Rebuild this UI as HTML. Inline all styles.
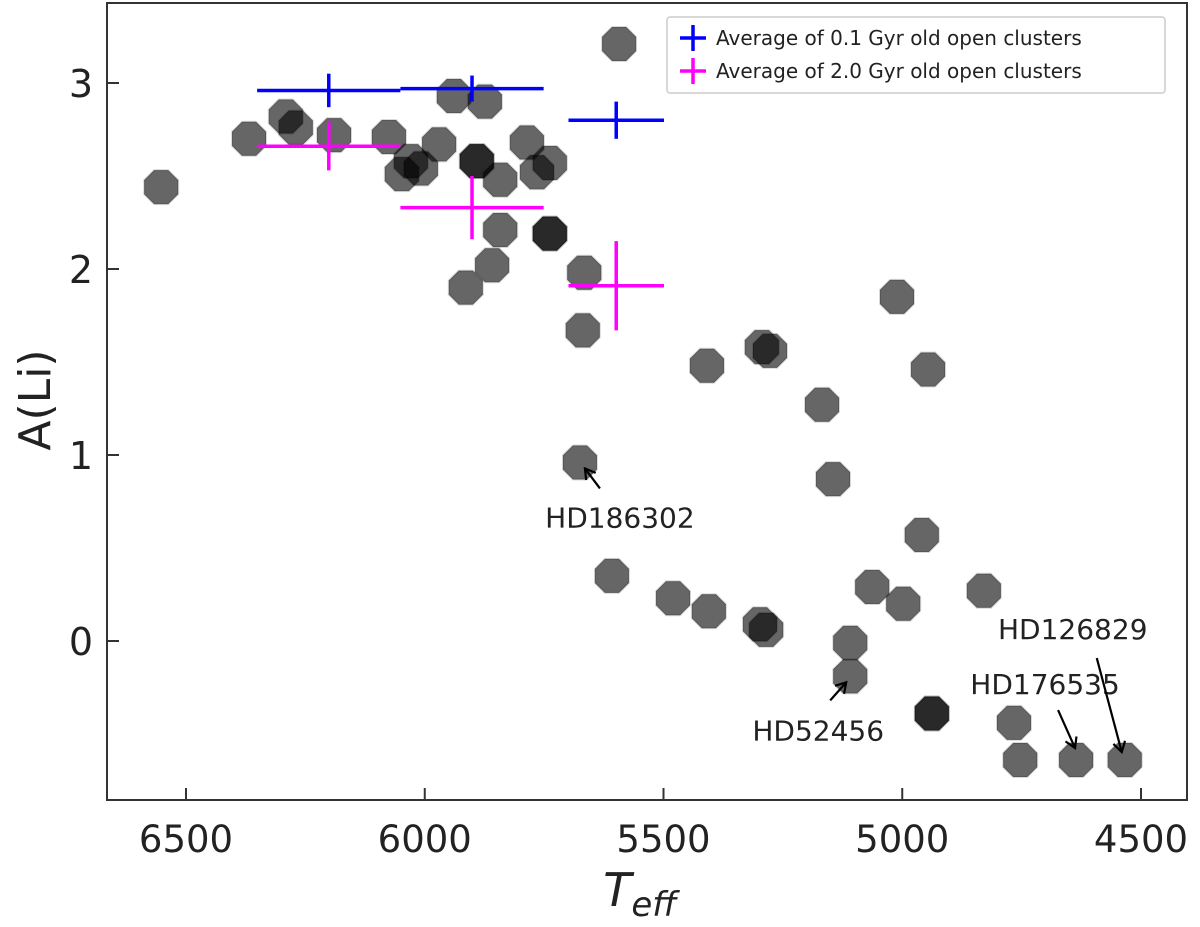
<!DOCTYPE html>
<html><head><meta charset="utf-8"><style>
body{margin:0;background:#fff}
svg text{font-family:"DejaVu Sans","Liberation Sans",sans-serif;fill:#222}
</style></head><body>
<svg id="chart" width="1200" height="922" xmlns="http://www.w3.org/2000/svg"></svg>
<script>
const teffs=[6552,6368,6291,6270,6190,6075,6029,6048,6008,5970,5939,5874,5891,5891,5842,5786,5765,5738,5842,5738,5738,5859,5914,5666,5669,5593,
5675,5608,5480,5405,5409,5294,5277,5298,5285,5168,5145,5109,5109,5063,5011,4998,4946,4959,4938,4938,4829,4766,4753,4636,4534];
const alis=[2.44,2.70,2.82,2.76,2.72,2.71,2.58,2.51,2.54,2.67,2.93,2.90,2.58,2.58,2.48,2.68,2.52,2.57,2.21,2.19,2.19,2.02,1.90,1.98,1.67,3.21,
0.96,0.35,0.23,0.16,1.48,1.58,1.56,0.09,0.06,1.27,0.87,-0.01,-0.19,0.29,1.85,0.20,1.46,0.57,-0.39,-0.39,0.27,-0.44,-0.64,-0.64,-0.64];
const youngT=[6201,5901,5599], youngA=[2.96,2.97,2.80], youngTerr=[150,150,100], youngAerr=[0.09,0.07,0.10];
const oldT=[6201,5901,5599], oldA=[2.66,2.33,1.91], oldTerr=[150,150,100], oldAerr=[0.13,0.17,0.24];
const xTicks=[6500,6000,5500,5000,4500];
const yTicks=[0,1,2,3];
const labelNames=["HD186302","HD52456","HD176535","HD126829"];
const labelT=[5675,5109,4636,4534];
const labelA=[0.96,-0.19,-0.64,-0.64];

const NS="http://www.w3.org/2000/svg",svg=document.getElementById('chart');
const L=107,R=1187,T=3,B=800;
const X=t=>186+(6500-t)*0.4775;
const Y=a=>641-a*186;
// label text/arrow offsets relative to the annotated point (layout, not data)
const lblOff=[[40,65,20,26,5,6],[-32,64,-20,24,-4,6],[-31,-66,-18,-50,-1,-12],[-52,-121,-28,-102,-3,-8]];
function el(tag,attrs,parent){const e=document.createElementNS(NS,tag);for(const k in attrs)e.setAttribute(k,attrs[k]);(parent||svg).appendChild(e);return e;}
const gp=el('g',{});


teffs.forEach((t,i)=>{
  const cx=X(t),cy=Y(alis[i]),r=17,k=r*0.414;
  const pts=[[k,-r],[r,-k],[r,k],[k,r],[-k,r],[-r,k],[-r,-k],[-k,-r]].map(p=>(cx+p[0])+','+(cy+p[1])).join(' ');
  const p=el('polygon',{points:pts,fill:'#000','fill-opacity':0.6,'stroke':'#000','stroke-opacity':0.15,'stroke-linejoin':'round','stroke-width':2},gp);
  
  
});
function errs(ts,as,te,ae,color,name){
  const g=el('g',{});
  
  
  ts.forEach((t,i)=>{
    el('line',{x1:X(t+te[i]),x2:X(t-te[i]),y1:Y(as[i]),y2:Y(as[i]),stroke:color,'stroke-width':3.5},g);
    el('line',{x1:X(t),x2:X(t),y1:Y(as[i]+ae[i]),y2:Y(as[i]-ae[i]),stroke:color,'stroke-width':3.5},g);
  });
}
errs(youngT,youngA,youngTerr,youngAerr,'#0000ff','young-cluster-averages');
errs(oldT,oldA,oldTerr,oldAerr,'#ff00ff','old-cluster-averages');
labelNames.forEach((n,i)=>{
  const px=X(labelT[i]),py=Y(labelA[i]),o=lblOff[i];
  const tx=el('text',{x:px+o[0],y:py+o[1],'font-size':28,'text-anchor':'middle'});tx.textContent=n;
  
  
  const x1=px+o[2],y1=py+o[3],x2=px+o[4],y2=py+o[5];
  const dx=x2-x1,dy=y2-y1,len=Math.hypot(dx,dy),ux=dx/len,uy=dy/len;
  el('line',{x1:x1,y1:y1,x2:x2,y2:y2,stroke:'#000','stroke-width':2.2});
  el('polyline',{points:`${x2-10*ux-6*uy},${y2-10*uy+6*ux} ${x2},${y2} ${x2-10*ux+6*uy},${y2-10*uy-6*ux}`,fill:'none',stroke:'#000','stroke-width':2.2});
});
const fr=el('rect',{x:L,y:T,width:R-L,height:B-T,fill:'none',stroke:'#333','stroke-width':2});


xTicks.forEach(t=>{
  el('line',{x1:X(t),x2:X(t),y1:B,y2:B-12,stroke:'#333','stroke-width':2});
  const tx=el('text',{x:X(t),y:B+52,'font-size':37,'text-anchor':'middle'});tx.textContent=t;
  
  
});
yTicks.forEach(a=>{
  el('line',{x1:L,x2:L+12,y1:Y(a),y2:Y(a),stroke:'#333','stroke-width':2});
  const tx=el('text',{x:L-14,y:Y(a)+14,'font-size':38,'text-anchor':'end'});tx.textContent=a;
  
  
});
const xt=el('text',{x:640,y:906,'font-size':46,'text-anchor':'middle','font-style':'italic'});
xt.innerHTML='T<tspan font-size="34" dy="10">eff</tspan>';


const yt=el('text',{x:0,y:0,'font-size':44,'text-anchor':'middle',transform:'translate(50,400) rotate(-90)'});yt.textContent='A(Li)';


const lg=el('g',{});


el('rect',{x:667,y:17,width:498,height:76,fill:'#fff',stroke:'#ccc','stroke-width':1.5,rx:3},lg);
[['#0000ff','Average of 0.1 Gyr old open clusters',38],['#ff00ff','Average of 2.0 Gyr old open clusters',71]].forEach(e=>{
  const g=el('g',{},lg);
  
  
  el('line',{x1:680,x2:706,y1:e[2],y2:e[2],stroke:e[0],'stroke-width':3.5},g);
  el('line',{x1:693,x2:693,y1:e[2]-13,y2:e[2]+13,stroke:e[0],'stroke-width':3.5},g);
  const tx=el('text',{x:716,y:e[2]+7,'font-size':20},g);tx.textContent=e[1];
});
</script>
</body></html>
